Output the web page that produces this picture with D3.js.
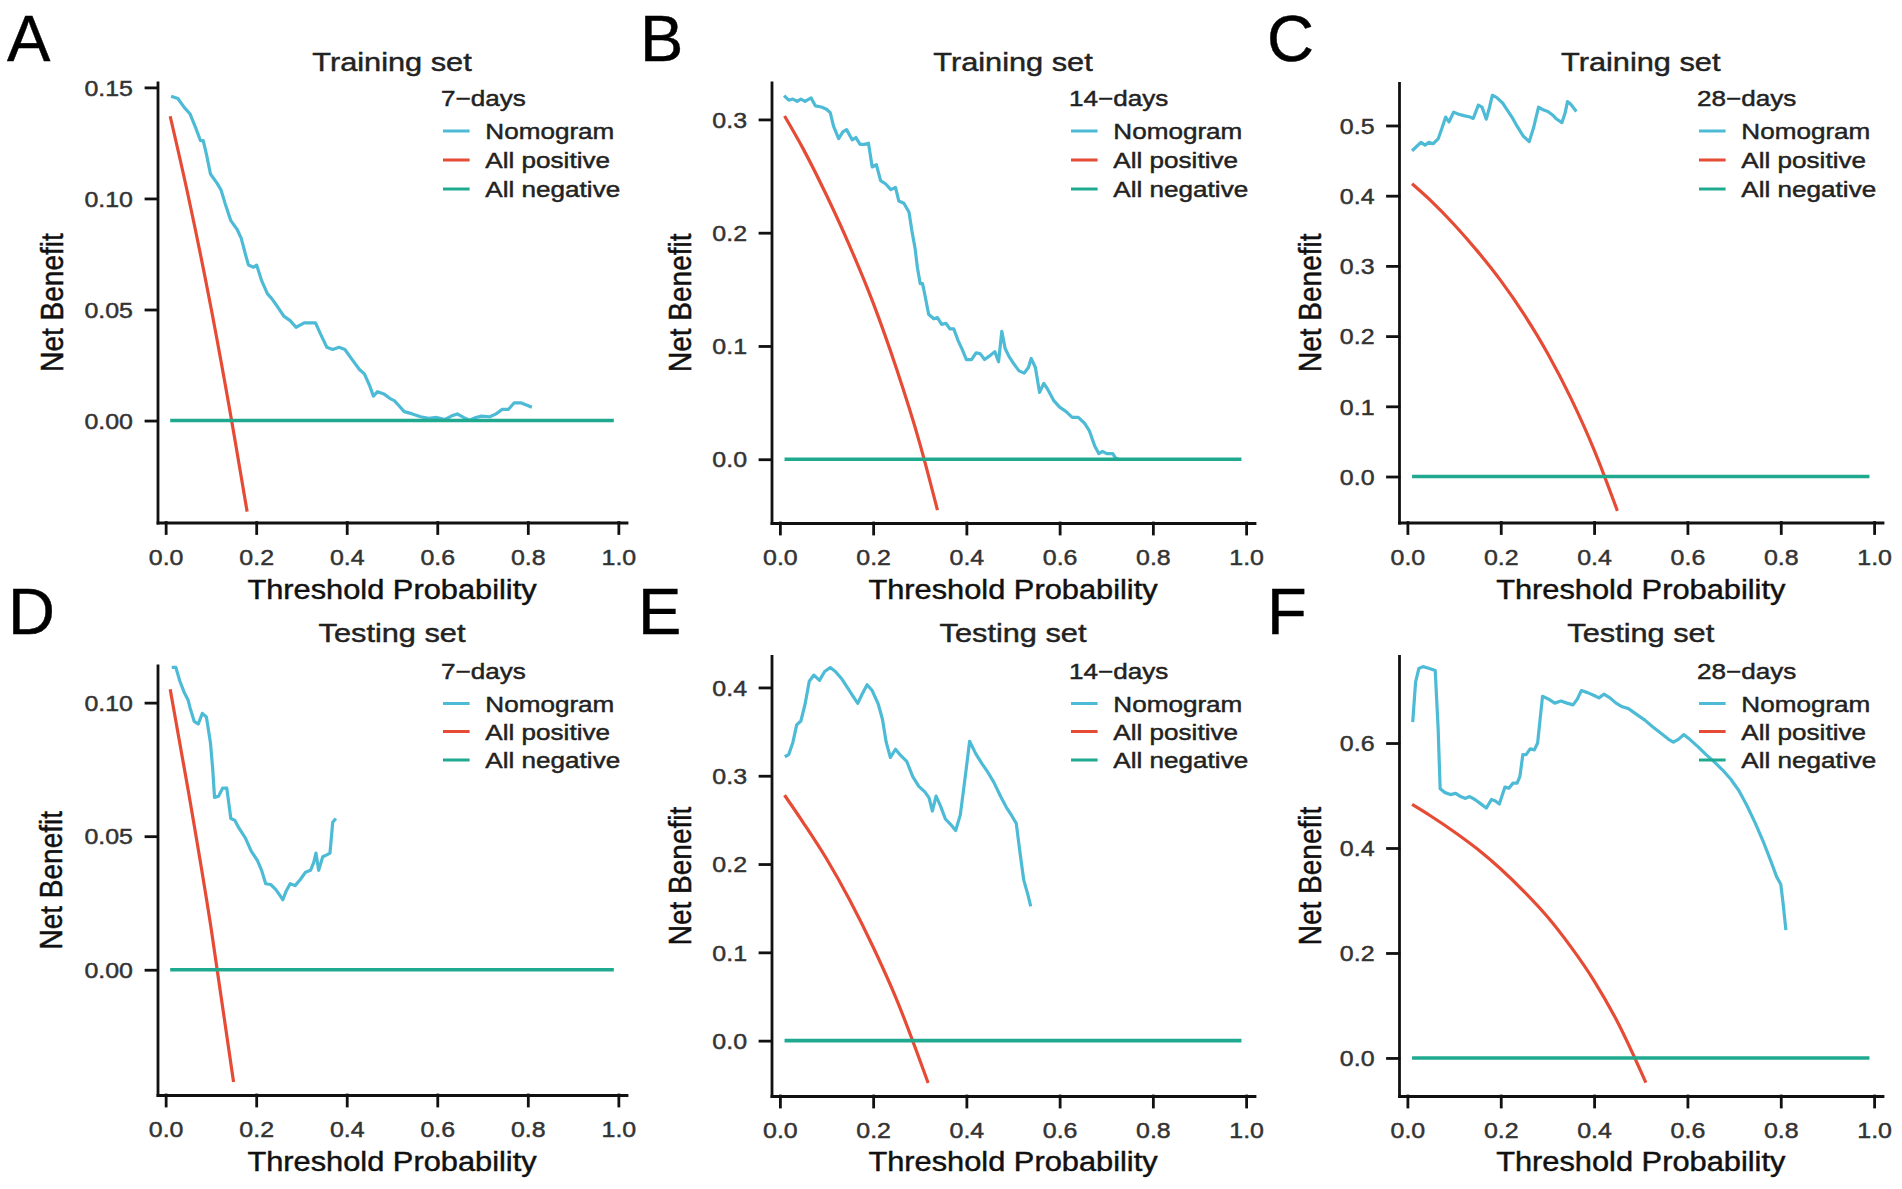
<!DOCTYPE html>
<html>
<head>
<meta charset="utf-8">
<script src="https://cdn.jsdelivr.net/npm/d3@7"></script>
<style>
  body { margin: 0; background: #fff; }
  text { font-family: "Liberation Sans", Arial, sans-serif; }
</style>
</head>
<body>
<svg id="chart"></svg>
<script>
/////////////////////////////////////////////////////////////
////////////////////// Data //////////////////////////////////
/////////////////////////////////////////////////////////////
var seriesNames = ["Nomogram", "All positive", "All negative"];
var panelLetters = ["A", "B", "C", "D", "E", "F"];
var setNames = ["Training set", "Testing set"];
var dayLabels = ["7\u2212days", "14\u2212days", "28\u2212days"];
var xTicks = [0, 0.2, 0.4, 0.6, 0.8, 1.0];
var yTicks7Train = [0, 0.05, 0.10, 0.15];
var yTicks14Train = [0, 0.1, 0.2, 0.3];
var yTicks28Train = [0, 0.1, 0.2, 0.3, 0.4, 0.5];
var yTicks7Test = [0, 0.05, 0.10];
var yTicks14Test = [0, 0.1, 0.2, 0.3, 0.4];
var yTicks28Test = [0, 0.2, 0.4, 0.6];

// all negative: net benefit 0 over the threshold range
var negLine = [[0.01, 0], [0.99, 0]];

// all positive (treat all)
var posA = [[0.01, 0.137], [0.05, 0.101], [0.10, 0.051], [0.15, -0.005], [0.18, -0.041]];
var posB = [[0.01, 0.303], [0.05, 0.274], [0.10, 0.233], [0.15, 0.188], [0.20, 0.138], [0.25, 0.080], [0.30, 0.014], [0.338, -0.045]];
var posC = [[0.01, 0.417], [0.05, 0.393], [0.10, 0.359], [0.15, 0.321], [0.20, 0.279], [0.25, 0.231], [0.30, 0.176], [0.35, 0.112], [0.40, 0.038], [0.45, -0.049]];
var posD = [[0.01, 0.105], [0.05, 0.067], [0.10, 0.016], [0.15, -0.042]];
var posE = [[0.01, 0.278], [0.05, 0.247], [0.10, 0.206], [0.15, 0.159], [0.20, 0.106], [0.25, 0.047], [0.318, -0.048]];
var posF = [[0.01, 0.483], [0.05, 0.461], [0.10, 0.431], [0.15, 0.398], [0.20, 0.360], [0.25, 0.317], [0.30, 0.269], [0.35, 0.212], [0.40, 0.147], [0.45, 0.069], [0.511, -0.047]];

// nomogram net benefit
var nomA = [[0.012,0.146],[0.027,0.145],[0.041,0.141],[0.054,0.138],[0.066,0.132],[0.077,0.126],[0.083,0.126],[0.090,0.120],[0.099,0.111],[0.113,0.107],[0.122,0.104],[0.131,0.098],[0.144,0.090],[0.158,0.086],[0.167,0.082],[0.176,0.075],[0.183,0.070],[0.194,0.069],[0.201,0.070],[0.212,0.063],[0.225,0.057],[0.234,0.055],[0.248,0.051],[0.261,0.047],[0.275,0.045],[0.288,0.042],[0.297,0.043],[0.306,0.044],[0.320,0.044],[0.331,0.044],[0.342,0.039],[0.356,0.033],[0.369,0.032],[0.383,0.033],[0.396,0.032],[0.410,0.028],[0.428,0.023],[0.439,0.021],[0.450,0.016],[0.459,0.011],[0.468,0.013],[0.482,0.012],[0.495,0.010],[0.505,0.009],[0.514,0.007],[0.527,0.004],[0.545,0.003],[0.563,0.0017],[0.581,0.001],[0.599,0.0014],[0.617,0.0005],[0.631,0.002],[0.644,0.003],[0.658,0.0014],[0.671,0.0002],[0.685,0.0014],[0.698,0.002],[0.716,0.0017],[0.730,0.003],[0.743,0.005],[0.757,0.005],[0.770,0.008],[0.784,0.008],[0.797,0.007],[0.809,0.006]];
var nomB = [[0.009,0.321],[0.019,0.317],[0.028,0.318],[0.037,0.316],[0.045,0.318],[0.054,0.316],[0.067,0.319],[0.076,0.312],[0.089,0.311],[0.100,0.309],[0.108,0.306],[0.115,0.294],[0.126,0.283],[0.135,0.289],[0.143,0.291],[0.155,0.282],[0.163,0.284],[0.172,0.278],[0.181,0.278],[0.190,0.279],[0.198,0.258],[0.207,0.260],[0.216,0.246],[0.227,0.243],[0.238,0.238],[0.248,0.240],[0.255,0.228],[0.266,0.226],[0.277,0.218],[0.283,0.202],[0.290,0.186],[0.295,0.169],[0.301,0.155],[0.306,0.155],[0.312,0.143],[0.319,0.128],[0.330,0.124],[0.338,0.125],[0.347,0.119],[0.356,0.120],[0.365,0.115],[0.373,0.115],[0.382,0.105],[0.391,0.097],[0.400,0.088],[0.411,0.088],[0.421,0.094],[0.430,0.093],[0.439,0.088],[0.449,0.091],[0.461,0.095],[0.469,0.086],[0.476,0.113],[0.483,0.098],[0.491,0.091],[0.502,0.084],[0.513,0.078],[0.524,0.076],[0.533,0.081],[0.539,0.089],[0.548,0.081],[0.557,0.059],[0.566,0.067],[0.574,0.062],[0.587,0.052],[0.600,0.046],[0.614,0.042],[0.627,0.037],[0.640,0.037],[0.653,0.032],[0.664,0.025],[0.675,0.012],[0.684,0.005],[0.692,0.007],[0.701,0.005],[0.714,0.005],[0.720,0.001],[0.726,0.0]];
var nomC = [[0.010,0.464],[0.018,0.469],[0.029,0.476],[0.038,0.472],[0.046,0.476],[0.055,0.474],[0.066,0.481],[0.074,0.496],[0.082,0.512],[0.089,0.505],[0.099,0.519],[0.110,0.516],[0.121,0.514],[0.134,0.512],[0.141,0.510],[0.152,0.529],[0.160,0.526],[0.169,0.509],[0.176,0.526],[0.182,0.543],[0.191,0.540],[0.204,0.532],[0.213,0.523],[0.224,0.512],[0.235,0.499],[0.248,0.485],[0.261,0.477],[0.270,0.496],[0.281,0.526],[0.292,0.522],[0.301,0.520],[0.311,0.515],[0.318,0.510],[0.331,0.504],[0.338,0.518],[0.343,0.534],[0.349,0.531],[0.355,0.526],[0.362,0.520]];
var nomD = [[0.0135,0.1132],[0.0225,0.1132],[0.0315,0.108],[0.0405,0.104],[0.0495,0.101],[0.054,0.098],[0.063,0.093],[0.072,0.092],[0.081,0.096],[0.090,0.0946],[0.099,0.085],[0.104,0.075],[0.108,0.0645],[0.117,0.065],[0.126,0.068],[0.135,0.068],[0.144,0.0566],[0.153,0.0559],[0.162,0.053],[0.176,0.0494],[0.189,0.0444],[0.203,0.0408],[0.212,0.0372],[0.221,0.0322],[0.232,0.0319],[0.243,0.0301],[0.252,0.0279],[0.259,0.0262],[0.266,0.0294],[0.275,0.0322],[0.286,0.0315],[0.297,0.0337],[0.309,0.0365],[0.320,0.0372],[0.327,0.0401],[0.332,0.0437],[0.338,0.0372],[0.347,0.0423],[0.356,0.043],[0.363,0.0437],[0.369,0.0552],[0.376,0.0566]];
var nomE = [[0.0105,0.3215],[0.019,0.324],[0.028,0.338],[0.036,0.3575],[0.045,0.362],[0.054,0.381],[0.063,0.407],[0.073,0.414],[0.085,0.408],[0.096,0.418],[0.108,0.4225],[0.119,0.418],[0.133,0.4095],[0.146,0.399],[0.157,0.390],[0.167,0.382],[0.176,0.392],[0.187,0.403],[0.198,0.3965],[0.211,0.381],[0.220,0.364],[0.228,0.338],[0.237,0.3207],[0.248,0.330],[0.259,0.323],[0.272,0.3163],[0.285,0.299],[0.298,0.288],[0.311,0.2817],[0.320,0.275],[0.327,0.260],[0.335,0.277],[0.344,0.2665],[0.355,0.251],[0.366,0.245],[0.377,0.238],[0.387,0.2557],[0.396,0.2925],[0.407,0.339],[0.420,0.325],[0.433,0.314],[0.446,0.304],[0.459,0.2925],[0.473,0.277],[0.486,0.264],[0.497,0.255],[0.507,0.246],[0.514,0.217],[0.523,0.182],[0.532,0.165],[0.538,0.152]];
var nomF = [[0.0114,0.640],[0.0175,0.716],[0.0246,0.742],[0.0333,0.7455],[0.0439,0.743],[0.0596,0.738],[0.0658,0.629],[0.0702,0.5127],[0.0807,0.5055],[0.0921,0.5018],[0.1035,0.504],[0.114,0.498],[0.1246,0.4945],[0.1333,0.498],[0.1447,0.4924],[0.158,0.4836],[0.169,0.476],[0.180,0.4924],[0.1886,0.4895],[0.197,0.4836],[0.209,0.516],[0.2175,0.514],[0.2263,0.5236],[0.235,0.5236],[0.241,0.536],[0.2474,0.578],[0.2544,0.578],[0.263,0.589],[0.272,0.587],[0.279,0.600],[0.2895,0.689],[0.3026,0.6836],[0.3158,0.676],[0.329,0.680],[0.342,0.676],[0.355,0.6727],[0.364,0.6836],[0.3728,0.700],[0.386,0.696],[0.399,0.691],[0.4105,0.686],[0.421,0.693],[0.434,0.686],[0.447,0.676],[0.4605,0.669],[0.4737,0.6655],[0.491,0.6545],[0.5088,0.6436],[0.526,0.6305],[0.544,0.618],[0.5596,0.607],[0.570,0.6015],[0.5807,0.607],[0.592,0.616],[0.605,0.607],[0.623,0.5927],[0.640,0.578],[0.658,0.5636],[0.675,0.549],[0.693,0.531],[0.7105,0.509],[0.728,0.480],[0.7456,0.447],[0.763,0.411],[0.779,0.3745],[0.791,0.3455],[0.800,0.331],[0.805,0.2945],[0.811,0.2436]];

/////////////////////////////////////////////////////////////
////////////////////// Layout ////////////////////////////////
/////////////////////////////////////////////////////////////
var width = 1902, height = 1189;
var colors = ["#4DBBD5", "#E64B35", "#1FAA90"];
var xDomain = [-0.018, 1.018];
var sx = 1.16;                      // the figure is a bit wider than tall

// per row: panel title baseline, axis title baseline, legend baselines/centres
var rowTitleY = [70.5, 642];
var rowXLabY = [598.5, 1171];
var rowLegendY = [[106, 131, 160, 189], [679, 703.5, 731.5, 760]];

// box = [left, right, top, bottom] of each panel, letter = [x, baseline]
var panels = [
  {letter: 0, row: 0, days: 0, nom: nomA, pos: posA, ticks: yTicks7Train,  yDom: [-0.0459, 0.1522], fmt: ".2f", box: [157.5, 626.5, 82.5, 522.5], ylab: 63,   lpos: [7, 61]},
  {letter: 1, row: 0, days: 1, nom: nomB, pos: posB, ticks: yTicks14Train, yDom: [-0.0563, 0.3326], fmt: ".1f", box: [771.5, 1254.5, 82.5, 523], ylab: 691,   lpos: [640, 61]},
  {letter: 2, row: 0, days: 2, nom: nomC, pos: posC, ticks: yTicks28Train, yDom: [-0.0655, 0.5605], fmt: ".1f", box: [1399, 1882.5, 83, 522.5], ylab: 1321,  lpos: [1267, 61]},
  {letter: 3, row: 1, days: 0, nom: nomD, pos: posD, ticks: yTicks7Test,   yDom: [-0.0469, 0.1139], fmt: ".2f", box: [157.5, 626.5, 665.5, 1095], ylab: 62,    lpos: [8, 634]},
  {letter: 4, row: 1, days: 1, nom: nomE, pos: posE, ticks: yTicks14Test,  yDom: [-0.0627, 0.4356], fmt: ".1f", box: [771.5, 1254.5, 656, 1096], ylab: 691,   lpos: [638, 634]},
  {letter: 5, row: 1, days: 2, nom: nomF, pos: posF, ticks: yTicks28Test,  yDom: [-0.0725, 0.7658], fmt: ".1f", box: [1399, 1882.5, 656, 1096], ylab: 1321,  lpos: [1267, 634]}
];

var svg = d3.select("#chart")
  .attr("width", width)
  .attr("height", height)
  .style("background", "#fff");

panels.forEach(drawPanel);

// soften the text a little like the scanned original
svg.selectAll("text")
  .attr("stroke", function() { return d3.select(this).attr("fill") || "#222"; })
  .attr("stroke-width", 0.45);

function drawPanel(p) {
  var L = p.box[0], R = p.box[1], T = p.box[2], B = p.box[3];
  var x = d3.scaleLinear().domain(xDomain).range([L, R]);
  var y = d3.scaleLinear().domain(p.yDom).range([B, T]);
  var g = svg.append("g");

  var jagged = d3.line().x(function(d) { return x(d[0]); }).y(function(d) { return y(d[1]); });
  var smooth = d3.line().curve(d3.curveMonotoneX).x(function(d) { return x(d[0]); }).y(function(d) { return y(d[1]); });

  // series: nomogram, all positive, all negative
  g.append("path").datum(p.nom).attr("d", jagged)
    .attr("fill", "none").attr("stroke", colors[0]).attr("stroke-width", 3.2).attr("stroke-linejoin", "round");
  g.append("path").datum(p.pos).attr("d", smooth)
    .attr("fill", "none").attr("stroke", colors[1]).attr("stroke-width", 3.2);
  g.append("path").datum(negLine).attr("d", jagged)
    .attr("fill", "none").attr("stroke", colors[2]).attr("stroke-width", 3.6);

  // axes
  var yAxis = g.append("g")
    .attr("transform", "translate(" + L + ",0)")
    .call(d3.axisLeft(y).tickValues(p.ticks).tickSize(11.5).tickSizeOuter(0).tickFormat(d3.format(p.fmt)));
  var xAxis = g.append("g")
    .attr("transform", "translate(0," + B + ")")
    .call(d3.axisBottom(x).tickValues(xTicks).tickSize(11).tickSizeOuter(0).tickFormat(d3.format(".1f")));

  [yAxis, xAxis].forEach(function(a) {
    a.attr("font-family", null).attr("font-size", null);
    a.selectAll("path, line").attr("stroke", "#111").attr("stroke-width", 2.8).attr("stroke-linecap", "square");
    a.selectAll("text").style("font-size", "21.5px").attr("fill", "#333");
  });
  yAxis.selectAll(".tick text")
    .attr("x", 0).attr("dy", "0.36em")
    .attr("transform", "translate(-24.5,0) scale(" + sx + ",1)");
  xAxis.selectAll(".tick text")
    .attr("y", 42.3).attr("dy", 0)
    .attr("transform", "scale(" + sx + ",1)");

  var midX = (L + R) / 2;

  // panel title
  g.append("text")
    .attr("transform", "translate(" + midX + "," + rowTitleY[p.row] + ") scale(" + sx + ",1)")
    .attr("text-anchor", "middle")
    .style("font-size", "26.5px")
    .attr("fill", "#222")
    .text(setNames[p.row]);

  // axis titles
  g.append("text")
    .attr("transform", "translate(" + midX + "," + rowXLabY[p.row] + ") scale(1.1,1)")
    .attr("text-anchor", "middle")
    .style("font-size", "28px")
    .attr("fill", "#111")
    .text("Threshold Probability");

  g.append("text")
    .attr("transform", "translate(" + p.ylab + "," + ((T + B) / 2) + ") scale(1.1,1) rotate(-90)")
    .attr("text-anchor", "middle")
    .style("font-size", "28px")
    .attr("fill", "#111")
    .text("Net Benefit");

  // panel letter
  g.append("text")
    .attr("x", p.lpos[0]).attr("y", p.lpos[1])
    .style("font-size", "65px")
    .attr("fill", "#000")
    .text(panelLetters[p.letter]);

  // legend
  var keyX = R - 183.5;
  var ly = rowLegendY[p.row];
  g.append("text")
    .attr("transform", "translate(" + (keyX - 2) + "," + ly[0] + ") scale(" + sx + ",1)")
    .style("font-size", "22.5px")
    .attr("fill", "#222")
    .text(dayLabels[p.days]);

  seriesNames.forEach(function(name, i) {
    g.append("line")
      .attr("x1", keyX).attr("x2", keyX + 26.6)
      .attr("y1", ly[i + 1]).attr("y2", ly[i + 1])
      .attr("stroke", colors[i]).attr("stroke-width", 3);
    g.append("text")
      .attr("transform", "translate(" + (keyX + 42.3) + "," + (ly[i + 1] + 8.4) + ") scale(" + sx + ",1)")
      .style("font-size", "22.5px")
      .attr("fill", "#222")
      .text(name);
  });
}
</script>
</body>
</html>
